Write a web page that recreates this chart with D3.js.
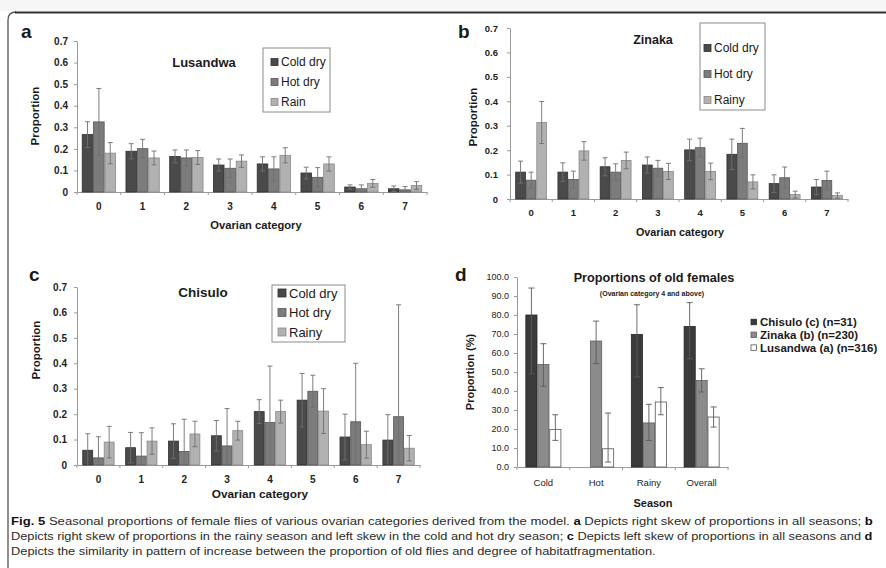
<!DOCTYPE html>
<html>
<head>
<meta charset="utf-8">
<script src="https://cdn.jsdelivr.net/npm/d3@7/dist/d3.min.js"></script>
<style>
  body { margin: 0; background: #fff; }
  svg { display: block; }
</style>
</head>
<body>
<svg id="fig" width="886" height="568"></svg>
<script>
// ---- Data -------------------------------------------------------------
const ovarianCategories = ["0", "1", "2", "3", "4", "5", "6", "7"];
const proportionTicks = [0, 0.1, 0.2, 0.3, 0.4, 0.5, 0.6, 0.7];

// a: Lusandwa (mean proportion and half-width of error bar)
const lusandwaColdDry    = [0.266, 0.189, 0.165, 0.125, 0.130, 0.088, 0.023, 0.015];
const lusandwaColdDryErr = [0.060, 0.035, 0.030, 0.028, 0.033, 0.027, 0.010, 0.013];
const lusandwaHotDry     = [0.325, 0.201, 0.158, 0.110, 0.107, 0.068, 0.015, 0.010];
const lusandwaHotDryErr  = [0.155, 0.043, 0.037, 0.043, 0.056, 0.045, 0.018, 0.015];
const lusandwaRain       = [0.180, 0.158, 0.160, 0.143, 0.170, 0.130, 0.040, 0.030];
const lusandwaRainErr    = [0.049, 0.032, 0.032, 0.029, 0.035, 0.033, 0.018, 0.018];

// b: Zinaka
const zinakaColdDry    = [0.110, 0.110, 0.132, 0.139, 0.201, 0.183, 0.063, 0.049];
const zinakaColdDryErr = [0.045, 0.038, 0.037, 0.033, 0.044, 0.062, 0.036, 0.031];
const zinakaHotDry     = [0.077, 0.080, 0.110, 0.126, 0.210, 0.228, 0.087, 0.076];
const zinakaHotDryErr  = [0.033, 0.034, 0.034, 0.032, 0.039, 0.061, 0.044, 0.038];
const zinakaRainy      = [0.313, 0.197, 0.158, 0.113, 0.113, 0.070, 0.018, 0.014];
const zinakaRainyErr   = [0.086, 0.038, 0.034, 0.033, 0.034, 0.029, 0.014, 0.011];

// c: Chisulo
const chisuloColdDry    = [0.058, 0.068, 0.094, 0.115, 0.210, 0.255, 0.110, 0.098];
const chisuloColdDryErr = [0.065, 0.060, 0.068, 0.060, 0.047, 0.105, 0.090, 0.100];
const chisuloHotDry     = [0.028, 0.035, 0.053, 0.075, 0.167, 0.290, 0.170, 0.190];
const chisuloHotDryErr  = [0.083, 0.092, 0.127, 0.147, 0.222, 0.063, 0.230, 0.440];
const chisuloRainy      = [0.090, 0.094, 0.122, 0.135, 0.210, 0.212, 0.080, 0.066];
const chisuloRainyErr   = [0.062, 0.052, 0.050, 0.037, 0.045, 0.088, 0.053, 0.050];

// d: proportion (%) of old females, with lower / upper limits
const seasonLabels = ["Cold", "Hot", "Rainy", "Overall"];
const percentTicks = [0, 10, 20, 30, 40, 50, 60, 70, 80, 90, 100];
const chisuloOld      = [80.0, null, 69.8, 74.0];
const chisuloOldLow   = [49.0, null, 47.4, 57.0];
const chisuloOldHigh  = [94.2, null, 85.4, 86.5];
const zinakaOld       = [53.9, 66.3, 23.2, 45.5];
const zinakaOldLow    = [42.5, 54.4, 14.0, 39.5];
const zinakaOldHigh   = [64.9, 76.8, 33.0, 51.7];
const lusandwaOld     = [19.8,  9.6, 34.2, 26.3];
const lusandwaOldLow  = [14.0,  2.6, 27.5, 21.0];
const lusandwaOldHigh = [27.5, 28.4, 41.8, 31.6];

// ---- Drawing ------------------------------------------------------------
const svg = d3.select("#fig");
const FONT = "'Liberation Sans', Arial, sans-serif";

// page background strip and figure frame
svg.append("rect").attr("x", 0).attr("y", 0).attr("width", 886).attr("height", 11).attr("fill", "#f6f6f6");
svg.append("path").attr("d", "M8,568 L8,20 Q8,12 16,12").attr("fill", "none")
  .attr("stroke", "#555").attr("stroke-width", 1.3);
svg.append("line").attr("x1", 15).attr("x2", 886).attr("y1", 12.5).attr("y2", 12.5)
  .attr("stroke", "#333").attr("stroke-width", 2);

const GREYS = {
  cold: { fill: "#4a4a4a", stroke: "#2e2e2e" },
  hot:  { fill: "#7c7c7c", stroke: "#555" },
  rain: { fill: "#b1b1b1", stroke: "#888" }
};

function withErrors(values, errs) {
  return {
    low: values.map((v, i) => Math.max(0, v - errs[i])),
    high: values.map((v, i) => v + errs[i])
  };
}

function styleAxis(ax, fontSize, weight) {
  ax.select(".domain").attr("stroke", "#9a9a9a");
  ax.selectAll(".tick line").attr("stroke", "#9a9a9a");
  ax.selectAll(".tick text").attr("fill", "#222").attr("font-family", FONT)
    .attr("font-size", fontSize).attr("font-weight", weight);
}

function drawBarPanel(p) {
  const g = svg.append("g");
  const x = d3.scaleBand().domain(p.categories).range([p.left, p.right])
    .paddingInner(p.pad).paddingOuter(p.pad / 2);
  const xs = d3.scaleBand().domain(p.series.map(s => s.name)).range([0, x.bandwidth()]);
  const y = d3.scaleLinear().domain(p.yDomain).range([p.bottom, p.top]);

  // y axis
  const ya = g.append("g").attr("transform", `translate(${p.left},0)`)
    .call(d3.axisLeft(y).tickValues(p.yTicks).tickFormat(p.yFormat)
      .tickSize(3).tickSizeOuter(0).tickPadding(p.yPad));
  styleAxis(ya, p.tickFont, p.tickWeight);

  // x axis with boundary ticks between categories
  const xa = g.append("g").attr("transform", `translate(0,${p.bottom})`)
    .call(d3.axisBottom(x).tickSize(0).tickSizeOuter(0).tickPadding(p.xPad));
  styleAxis(xa, p.xTickFont || p.tickFont, p.tickWeight);
  const bounds = p.categories.map(c => x(c) - x.step() * x.paddingInner() / 2)
    .concat([p.right]);
  g.append("g").selectAll("line").data(bounds).join("line")
    .attr("x1", d => d).attr("x2", d => d)
    .attr("y1", p.bottom).attr("y2", p.bottom + 3)
    .attr("stroke", "#9a9a9a");

  // bars and error bars
  p.series.forEach(s => {
    const rows = p.categories.map((c, i) => ({ c, v: s.values[i], lo: s.low[i], hi: s.high[i] }))
      .filter(r => r.v != null);
    const sg = g.append("g");
    sg.selectAll("rect").data(rows).join("rect")
      .attr("x", d => x(d.c) + xs(s.name) + 0.4)
      .attr("width", xs.bandwidth() - 0.8)
      .attr("y", d => y(d.v))
      .attr("height", d => y(0) - y(d.v))
      .attr("fill", s.fill).attr("stroke", s.stroke).attr("stroke-width", 0.8);
    const eg = g.append("g").attr("stroke", p.errColor).attr("stroke-width", 0.9);
    rows.forEach(d => {
      const cx = x(d.c) + xs(s.name) + xs.bandwidth() / 2;
      eg.append("line").attr("x1", cx).attr("x2", cx).attr("y1", y(d.lo)).attr("y2", y(d.hi));
      eg.append("line").attr("x1", cx - p.cap).attr("x2", cx + p.cap).attr("y1", y(d.hi)).attr("y2", y(d.hi));
      if (d.lo > 0) {
        eg.append("line").attr("x1", cx - p.cap).attr("x2", cx + p.cap).attr("y1", y(d.lo)).attr("y2", y(d.lo));
      }
    });
  });

  // texts
  const t = (txt, xx, yy, size, weight, anchor, extra) => {
    const el = g.append("text").attr("x", xx).attr("y", yy).text(txt)
      .attr("font-family", FONT).attr("font-size", size).attr("font-weight", weight || "normal")
      .attr("fill", "#1a1a1a").attr("text-anchor", anchor || "middle");
    if (extra) extra(el);
    return el;
  };
  t(p.letter, p.letterX, p.letterY, 19, "bold", "start");
  t(p.title, p.titleX, p.titleY, p.titleSize, "bold");
  t(p.xTitle, p.xTitleX, p.xTitleY, p.xTitleSize, "bold");
  t(p.yTitle, 0, 0, p.yTitleSize, "bold", "middle",
    el => el.attr("transform", `translate(${p.yTitleX},${p.yTitleY}) rotate(-90)`));

  // legend
  const L = p.legend;
  if (L.box) {
    g.append("rect").attr("x", L.box[0]).attr("y", L.box[1]).attr("width", L.box[2]).attr("height", L.box[3])
      .attr("fill", "#fff").attr("stroke", "#8c8c8c").attr("stroke-width", 1);
  }
  p.series.forEach((s, i) => {
    const ry = L.y0 + i * L.dy;
    g.append("rect").attr("x", L.mx).attr("y", ry - L.ms / 2).attr("width", L.ms).attr("height", L.ms)
      .attr("fill", s.fill).attr("stroke", s.legendStroke || s.stroke).attr("stroke-width", 0.8);
    t(s.label, L.tx, ry + L.size * 0.36, L.size, L.weight || "normal", "start");
  });
}

const fmtProp = d => d === 0 ? "0" : d3.format(".1f")(d);

function season3(names, vals, errs, labels) {
  const keys = ["cold", "hot", "rain"];
  return vals.map((v, i) => {
    const e = withErrors(v, errs[i]);
    return { name: names[i], label: labels[i], values: v, low: e.low, high: e.high,
             fill: GREYS[keys[i]].fill, stroke: GREYS[keys[i]].stroke };
  });
}

// a: Lusandwa
drawBarPanel({
  categories: ovarianCategories, left: 77, right: 427, top: 41, bottom: 192, pad: 0.22,
  yDomain: [0, 0.7], yTicks: proportionTicks, yFormat: fmtProp, yPad: 6, xPad: 11,
  tickFont: 10, tickWeight: "bold", errColor: "#6f6f6f", cap: 2.5,
  series: season3(["cd", "hd", "r"], [lusandwaColdDry, lusandwaHotDry, lusandwaRain],
    [lusandwaColdDryErr, lusandwaHotDryErr, lusandwaRainErr], ["Cold dry", "Hot dry", "Rain"]),
  letter: "a", letterX: 21, letterY: 38,
  title: "Lusandwa", titleX: 204, titleY: 67, titleSize: 13,
  xTitle: "Ovarian category", xTitleX: 256, xTitleY: 229, xTitleSize: 11.2,
  yTitle: "Proportion", yTitleX: 39, yTitleY: 116, yTitleSize: 11.5,
  legend: { box: [263, 48, 67, 64], y0: 62, dy: 20, mx: 271, ms: 7, tx: 281, size: 12 }
});

// b: Zinaka
drawBarPanel({
  categories: ovarianCategories, left: 510, right: 848, top: 28, bottom: 199, pad: 0.25,
  yDomain: [0, 0.7], yTicks: proportionTicks, yFormat: fmtProp, yPad: 9, xPad: 10,
  tickFont: 9.5, tickWeight: "bold", errColor: "#6f6f6f", cap: 2.5,
  series: season3(["cd", "hd", "r"], [zinakaColdDry, zinakaHotDry, zinakaRainy],
    [zinakaColdDryErr, zinakaHotDryErr, zinakaRainyErr], ["Cold dry", "Hot dry", "Rainy"]),
  letter: "b", letterX: 458, letterY: 38,
  title: "Zinaka", titleX: 653, titleY: 44, titleSize: 12.5,
  xTitle: "Ovarian category", xTitleX: 680, xTitleY: 236, xTitleSize: 10.8,
  yTitle: "Proportion", yTitleX: 477, yTitleY: 117, yTitleSize: 11.5,
  legend: { box: [700, 23, 65, 87], y0: 48, dy: 26, mx: 704, ms: 7, tx: 714, size: 12 }
});

// c: Chisulo
drawBarPanel({
  categories: ovarianCategories, left: 77, right: 420, top: 287, bottom: 465, pad: 0.25,
  yDomain: [0, 0.7], yTicks: proportionTicks, yFormat: fmtProp, yPad: 7, xPad: 10.5,
  tickFont: 10, tickWeight: "bold", errColor: "#6f6f6f", cap: 2.5,
  series: season3(["cd", "hd", "r"], [chisuloColdDry, chisuloHotDry, chisuloRainy],
    [chisuloColdDryErr, chisuloHotDryErr, chisuloRainyErr], ["Cold dry", "Hot dry", "Rainy"]),
  letter: "c", letterX: 29, letterY: 281,
  title: "Chisulo", titleX: 203, titleY: 297, titleSize: 13.5,
  xTitle: "Ovarian category", xTitleX: 260, xTitleY: 498, xTitleSize: 11.8,
  yTitle: "Proportion", yTitleX: 40, yTitleY: 350, yTitleSize: 11.5,
  legend: { box: [272, 285, 73, 57], y0: 293, dy: 19.5, mx: 278, ms: 8, tx: 289, size: 13 }
});

// d: old females
drawBarPanel({
  categories: seasonLabels, left: 517, right: 728, top: 277, bottom: 467, pad: 0.32,
  yDomain: [0, 100], yTicks: percentTicks, yFormat: d3.format(".1f"), yPad: 5, xPad: 12,
  tickFont: 9, xTickFont: 9.5, tickWeight: "normal", errColor: "#5a5a5a", cap: 3,
  series: [
    { name: "c", label: "Chisulo (c) (n=31)", values: chisuloOld, low: chisuloOldLow, high: chisuloOldHigh,
      fill: "#3b3b3b", stroke: "#262626" },
    { name: "z", label: "Zinaka (b) (n=230)", values: zinakaOld, low: zinakaOldLow, high: zinakaOldHigh,
      fill: "#8b8b8b", stroke: "#5e5e5e" },
    { name: "l", label: "Lusandwa (a) (n=316)", values: lusandwaOld, low: lusandwaOldLow, high: lusandwaOldHigh,
      fill: "#ffffff", stroke: "#555" }
  ],
  letter: "d", letterX: 455, letterY: 281,
  title: "Proportions of old females", titleX: 654, titleY: 282, titleSize: 12.7,
  xTitle: "Season", xTitleX: 653, xTitleY: 507, xTitleSize: 11,
  yTitle: "Proportion (%)", yTitleX: 474, yTitleY: 372, yTitleSize: 11,
  legend: { box: null, y0: 322, dy: 12.8, mx: 751, ms: 5.5, tx: 760, size: 11.5, weight: "bold" }
});
svg.append("text").attr("x", 652).attr("y", 296).attr("text-anchor", "middle")
  .attr("font-family", FONT).attr("font-size", 7).attr("font-weight", "bold").attr("fill", "#1a1a1a")
  .text("(Ovarian category 4 and above)");

// ---- Caption ------------------------------------------------------------
const captionLines = [
  { width: 862, parts: [["Fig. 5", true], [" Seasonal proportions of female flies of various ovarian categories derived from the model. ", false], ["a", true], [" Depicts right skew of proportions in all seasons; ", false], ["b", true]] },
  { width: 862, parts: [["Depicts right skew of proportions in the rainy season and left skew in the cold and hot dry season; ", false], ["c", true], [" Depicts left skew of proportions in all seasons and ", false], ["d", true]] },
  { width: 645, parts: [["Depicts the similarity in pattern of increase between the proportion of old flies and degree of habitatfragmentation.", false]] }
];
captionLines.forEach((line, i) => {
  const txt = svg.append("text").attr("x", 0).attr("y", 0)
    .attr("font-family", FONT).attr("font-size", 11.5).attr("fill", "#2a2a2a")
    .style("white-space", "pre");
  line.parts.forEach(([s, b]) => {
    txt.append("tspan").text(s).attr("font-weight", b ? "bold" : "normal")
      .attr("fill", b ? "#111" : "#2a2a2a");
  });
  const w = txt.node().getComputedTextLength();
  txt.attr("transform", `translate(11,${525 + i * 15}) scale(${line.width / w},1)`);
});
</script>
</body>
</html>
